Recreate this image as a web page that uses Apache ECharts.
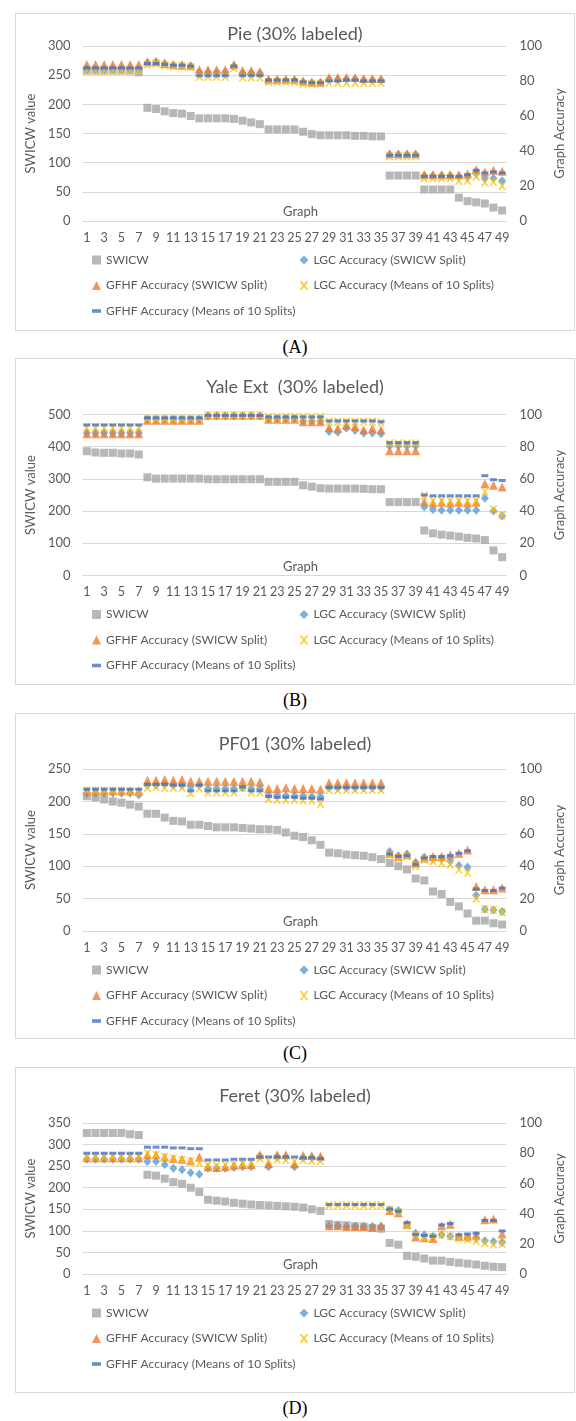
<!DOCTYPE html>
<html>
<head>
<meta charset="utf-8">
<script src="https://cdn.jsdelivr.net/npm/echarts@6/dist/echarts.min.js"></script>
<style>
  body { margin: 0; width: 576px; height: 1421px; background: #fff; position: relative; }
  .panel { position: absolute; left: 15px; width: 560px; border: 1px solid #d9d9d9; box-sizing: border-box; }
  .cap { position: absolute; left: 15px; width: 560px; text-align: center; font-family: 'Liberation Serif', serif; font-size: 18px; line-height: 20px; color: #000; }
</style>
</head>
<body>
<div id="pA" class="panel" style="top:13px;height:318px"></div>
<div class="cap" style="top:337px">(A)</div>
<div id="pB" class="panel" style="top:358px;height:327px"></div>
<div class="cap" style="top:690px">(B)</div>
<div id="pC" class="panel" style="top:713px;height:326px"></div>
<div class="cap" style="top:1043px">(C)</div>
<div id="pD" class="panel" style="top:1067px;height:326px"></div>
<div class="cap" style="top:1398px">(D)</div>

<script>
// graphs 1..49
const categories = Array.from({ length: 49 }, (_, i) => String(i + 1));

// ---- Pie ----
const pieSwicw = [258,258,258,258,258,258,255, 194,192,188,185,184,180,176,176,176,176,175,172,169,166,
  157,157,157,157,153,149,147,147,147,147,146,146,145,145, 78,78,78,78, 54,54,54,54, 40,34,32,30,23,18];
const pieLgcSplit = [87,87,87,87,87,87,87, 90.5,91,90,89,89,88.5, 85,85,85,85, 88.5, 84.5,84.5,84.5,
  80.5,80.5,80.5,80.5, 79.5,79,79, 81,81,81,81,80.5,80.5,80.5, 38,38,38,38,
  26,26,26,26,25.5,25,27,24.5,24.5,23];
const pieGfhfSplit = [89.5,89.5,89.5,89.5,89.5,89.5,89.5, 91,91,90,89.5,89,89, 86.5,86.5,86.5,86.5, 89.5, 86,86,85.5,
  81,81,81,81, 80,79.5,79.5, 82,82,82,82,81.5,81.5,81.5, 38.5,38.5,38.5,38.5,
  26.5,26.5,26.5,26.5,26.5,27,29.5,28,29,28.5];
const pieLgcMeans = [86,86,86,86,86,86,86, 89.5,90,89,88.5,88.5,88, 82.5,82.5,82.5,82.5, 87.5, 82,82,82,
  79.5,79.5,79.5,79.5, 78.5,78.5,78.5, 79,79,79,79,79,79,79, 37,37,37,37,
  24.5,24.5,24.5,24.5,23,23,25.5,22,22.5,20];
const pieGfhfMeans = [87.5,87.5,87.5,87.5,87.5,87.5,87.5, 90,90,89.5,89,89,88.5, 83,83,83,83, 88.5, 83,83,83,
  80.5,80.5,80.5,80.5, 79.5,79,79, 80,80,80.5,80.5,80,80,80, 37.5,37.5,37.5,37.5,
  25.5,25.5,25.5,25.5,25.5,26.5,29,27.5,28,27.5];

// ---- Yale Ext ----
const yaleSwicw = [386,382,381,381,379,379,376, 305,301,301,301,301,301,301, 299,299,299,299,299,299,299,
  291,291,291,291, 280,276,271, 270,270,270,270,269,268,268, 228,228,228,228,
  140,131,127,124,121,117,115,110,78,57];
const yaleLgcSplit = [88.5,88.5,88.5,88.5,88.5,88.5,88.5, 97,97,97,97,97,97,97, 99,99,99,99,99,99,99,
  97.5,97.5,97.5,97.5, 96,96,96, 89.5,89,91.5,90,88.5,88.5,88, 80.5,80.5,80.5,80.5,
  42.5,41,40.5,40.5,40.5,40.5,40.5,48,40,37];
const yaleGfhfSplit = [88,88,88,88,88,88,88, 96.5,96.5,96.5,96.5,96.5,96.5,96.5, 99.5,99.5,99.5,99.5,99.5,99.5,99.5,
  97,97,97,97, 95.5,95.5,95.5, 92,91.5,93.5,92.5,90.5,91.5,90.5, 77.5,77.5,77.5,77.5,
  46,45,45.5,45,45.5,45,45.5,57,56,55];
const yaleLgcMeans = [92,92,92,92,92,92,92, 97.5,97.5,97.5,97.5,97.5,97.5,97.5, 99.5,99.5,99.5,99.5,99.5,99.5,99.5,
  98.5,98.5,98.5,98.5,98.5,98.5,98.5, 95.5,95.5,95.5,95.5,95.5,95.5,95, 82,82,82,82,
  49.5,46.5,46.5,46.5,46.5,46.5,46.5,52,41,37.5];
const yaleGfhfMeans = [93.5,93.5,93.5,93.5,93.5,93.5,93.5, 98,98,98,98,98,98,98, 99.5,99.5,99.5,99.5,99.5,99.5,99.5,
  98.5,98.5,98.5,98.5,98.5,98.5,98.5, 96,96,96,96,96,96,95.5, 82.5,82.5,82.5,82.5,
  50,49.5,49.5,49.5,49.5,49.5,49.5,62,59.5,59];

// ---- PF01 ----
const pfSwicw = [208,206,203,200,198,195,192, 181,181,175,170,169,164,164,162,160,160,160,159,158,157,157,156,152,147,145,140,133,
  121,120,118,117,116,114,111, 105,100,95,81,78,61,57,45,38,27,16,16,12,10];
const pfLgcSplit = [85,85,85,85,85,85,84, 90,90,90.5,90,90,89,90, 88,88,88,88,88.5,88,88,
  84,84,83.5,83.5,83.5,83,83, 88.5,88.5,88.5,88.5,88.5,88.5,88.5,
  49,46.5,47.5,42.5,45.5,44.5,44.5,43,40.5,39.5,22,13.5,13,12];
const pfGfhfSplit = [86.5,86.5,86.5,86.5,86.5,86.5,86.5, 93,93,93.5,93,93.5,92.5,92.5, 92.5,92.5,92.5,92.5,92.5,92.5,92,
  88,88,88.5,88,88,88,87.5, 91.5,91.5,91.5,91.5,91.5,91.5,91.5,
  48,46,47,42,45,46,46,47,48,50,27.5,25.5,25.5,26.5];
const pfLgcMeans = [86.5,86.5,86.5,86.5,86.5,86,85.5, 88.5,89,88.5,88.5,88.5,85,88, 85.5,85.5,85.5,85.5,88.5,85.5,85.5,
  81.5,81,81,81,80.5,80.5,78.5, 87,87,87,87,87,87,87,
  47,45,46,40,44,43,42,41,38,36,20,13.5,13,11.5];
const pfGfhfMeans = [87.5,87.5,87.5,87.5,87.5,87.5,87.5, 90.5,90.5,90.5,90,90,86.5,90, 86.5,86.5,86.5,86.5,89,86.5,86.5,
  83,82.5,82.5,82.5,82,82,81.5, 88.5,88.5,88.5,88.5,88.5,88.5,88.5,
  47.5,46,46.5,41,45,46,46,46.5,48,49.5,26,25,25,26.5];

// ---- Feret ----
const feretSwicw = [327,327,327,327,327,324,322, 230,228,221,213,209,200,190,
  172,170,168,165,163,161,160,159,158,157,156,154,150,146,
  116,114,113,111,110,107,105, 72,68,42,40,36,31,31,28,26,24,22,19,17,16];
const feretLgcSplit = [76,76,76,76,76,76,76, 74.5,74.5,72.5,70,69,67,66, 70,70,70,70.5,71,71,
  78,71,77.5,77.5,71,77,77,76.5, 32,32,31.5,31.5,31.5,31.5,31.5,
  42.5,42,33,27,26,25,26,25,24.5,24,23.5,22,21.5,21];
const feretGfhfSplit = [77,77,77,77,77,77,77, 79,79,77.5,76.5,76,75,77.5, 71,70.5,71,72,72.5,72.5,
  79,73,79,79,73,78.5,78.5,78, 32,32,31.5,31.5,31.5,31,32,
  42,40.5,33,24.5,24,23.5,32,33,25,25,26,36,36.5,26.5];
const feretLgcMeans = [77.5,77.5,77.5,77.5,77.5,77.5,77.5, 80,79,77.5,76.5,75.5,74.5,73.5, 72,71.5,72,72.5,73,73.5,
  76.5,75,76,75.5,74.5,75.5,75,75, 45.5,45.5,45.5,45.5,45.5,45.5,45.5,
  42.5,41,32,26,24.5,24.5,26,25,23.5,23,22,20.5,19.5,20];
const feretGfhfMeans = [80,80,80,80,80,80,80, 84,84,84,83.5,83.5,83,83, 75.5,75.5,75.5,76,76,76,
  77.5,77.5,77.5,77.5,77.5,77,77,76.5, 46,46,46,46,46,46,46,
  43,41.5,34,26,25.5,25,32.5,33.5,26,26.5,27,35.5,35.5,28.5];

const X_PATH = 'path://M0,0L2.4,0L5,3.3L7.6,0L10,0L6.3,5L10,10L7.6,10L5,6.7L2.4,10L0,10L3.7,5Z';
const DASH_PATH = 'path://M0,0H10V4H0Z';
const FONT = 'Lato';
const GREY_TEXT = '#595959';
const GRID_LINE = '#d9d9d9';
const GRID_LEFT = 61;
const GRID_RIGHT = 50;

function buildOption(p, width, height) {
  const axisText = { color: GREY_TEXT, fontSize: 13, fontFamily: FONT };
  const legendText = { color: GREY_TEXT, fontSize: 12, fontFamily: FONT, lineHeight: 14 };
  const legendBase = { orient: 'vertical', itemWidth: 9, itemHeight: 9, itemGap: 11.5, selectedMode: false, textStyle: legendText, padding: 0 };
  const plotCenterX = GRID_LEFT + (width - GRID_LEFT - GRID_RIGHT) / 2;
  return {
    animation: false,
    title: {
      text: p.title, left: 'center', top: p.titleTop,
      textStyle: { color: GREY_TEXT, fontSize: 18, fontWeight: 'normal', fontFamily: FONT }
    },
    legend: [
      Object.assign({}, legendBase, { left: 76, top: p.legendTop,
        data: ['SWICW', 'GFHF Accuracy (SWICW Split)', 'GFHF Accuracy (Means of 10 Splits)'] }),
      Object.assign({}, legendBase, { left: 283.5, top: p.legendTop,
        data: ['LGC Accuracy (SWICW Split)', 'LGC Accuracy (Means of 10 Splits)'] })
    ],
    // x axis title sits inside the plot, just above the zero line
    graphic: [{
      type: 'text', x: plotCenterX, y: height - p.gridBottom - 9, silent: true,
      style: { text: 'Graph', fill: GREY_TEXT, fontSize: 13, fontFamily: FONT, align: 'center', verticalAlign: 'middle' }
    }],
    grid: { left: GRID_LEFT, right: GRID_RIGHT, top: p.gridTop, bottom: p.gridBottom },
    xAxis: {
      type: 'category', data: categories, boundaryGap: true,
      axisLine: { lineStyle: { color: GRID_LINE } },
      axisTick: { show: false },
      axisLabel: Object.assign({ interval: 1, margin: 10 }, axisText, { fontSize: 12.5 })
    },
    yAxis: [
      {
        type: 'value', min: 0, max: p.leftMax, interval: p.leftInterval,
        axisLine: { show: false }, axisTick: { show: false },
        splitLine: { lineStyle: { color: GRID_LINE } },
        axisLabel: Object.assign({ margin: 12 }, axisText),
        name: 'SWICW value', nameLocation: 'middle', nameRotate: 90, nameGap: 38, nameTextStyle: axisText
      },
      {
        type: 'value', min: 0, max: 100, interval: 20, position: 'right',
        axisLine: { show: false }, axisTick: { show: false }, splitLine: { show: false },
        axisLabel: Object.assign({ margin: 13 }, axisText),
        name: 'Graph Accuracy', nameLocation: 'middle', nameRotate: 90, nameGap: 36, nameTextStyle: axisText
      }
    ],
    series: [
      { name: 'SWICW', type: 'scatter', yAxisIndex: 0, data: p.swicw, symbol: 'rect', symbolSize: 8,
        itemStyle: { color: '#a5a5a5' }, silent: true },
      { name: 'LGC Accuracy (SWICW Split)', type: 'scatter', yAxisIndex: 1, data: p.lgcSplit, symbol: 'diamond', symbolSize: [8, 9],
        itemStyle: { color: '#5b9bd5' }, silent: true },
      { name: 'GFHF Accuracy (SWICW Split)', type: 'scatter', yAxisIndex: 1, data: p.gfhfSplit, symbol: 'triangle', symbolSize: [9, 9],
        itemStyle: { color: '#ed7d31' }, silent: true },
      { name: 'LGC Accuracy (Means of 10 Splits)', type: 'scatter', yAxisIndex: 1, data: p.lgcMeans, symbol: X_PATH, symbolSize: 8,
        itemStyle: { color: '#ffc000' }, silent: true },
      { name: 'GFHF Accuracy (Means of 10 Splits)', type: 'scatter', yAxisIndex: 1, data: p.gfhfMeans, symbol: DASH_PATH, symbolSize: [7, 3],
        itemStyle: { color: '#4472c4' }, silent: true }
    ]
  };
}

const panels = [
  { id: 'pA', title: 'Pie (30% labeled)', titleTop: 6, gridTop: 32, gridBottom: 109, legendTop: 239, leftMax: 300, leftInterval: 50,
    swicw: pieSwicw, lgcSplit: pieLgcSplit, gfhfSplit: pieGfhfSplit, lgcMeans: pieLgcMeans, gfhfMeans: pieGfhfMeans },
  { id: 'pB', title: 'Yale Ext  (30% labeled)', titleTop: 14, gridTop: 55.5, gridBottom: 108.5, legendTop: 248.5, leftMax: 500, leftInterval: 100,
    swicw: yaleSwicw, lgcSplit: yaleLgcSplit, gfhfSplit: yaleGfhfSplit, lgcMeans: yaleLgcMeans, gfhfMeans: yaleGfhfMeans },
  { id: 'pC', title: 'PF01 (30% labeled)', titleTop: 16, gridTop: 55, gridBottom: 107, legendTop: 249, leftMax: 250, leftInterval: 50,
    swicw: pfSwicw, lgcSplit: pfLgcSplit, gfhfSplit: pfGfhfSplit, lgcMeans: pfLgcMeans, gfhfMeans: pfGfhfMeans },
  { id: 'pD', title: 'Feret (30% labeled)', titleTop: 14, gridTop: 55, gridBottom: 118, legendTop: 238, leftMax: 350, leftInterval: 50,
    swicw: feretSwicw, lgcSplit: feretLgcSplit, gfhfSplit: feretGfhfSplit, lgcMeans: feretLgcMeans, gfhfMeans: feretGfhfMeans }
];

panels.forEach(p => {
  const chart = echarts.init(document.getElementById(p.id), null, { renderer: 'canvas' });
  chart.setOption(buildOption(p, chart.getWidth(), chart.getHeight()));
});
</script>
</body>
</html>
